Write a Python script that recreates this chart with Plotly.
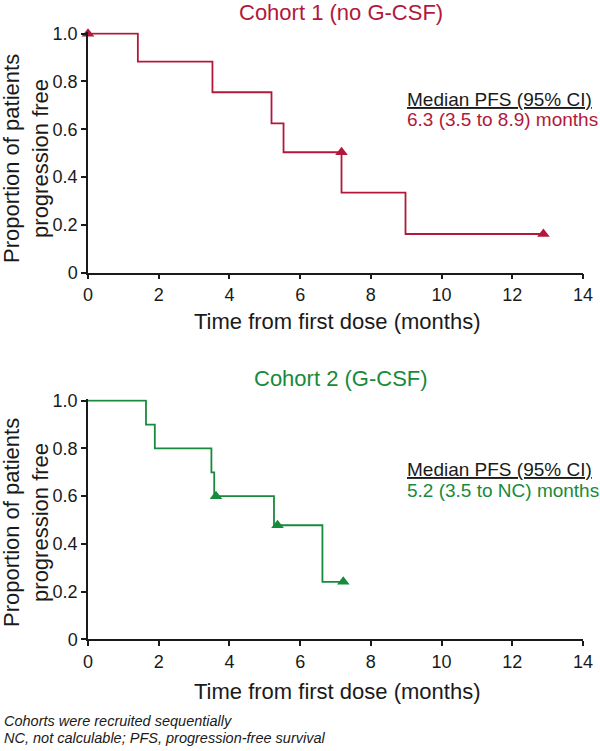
import plotly.graph_objects as go

# ---- data ----
c1_time = [0, 1.41, 3.52, 5.19, 5.53, 7.17, 8.98, 12.88]
c1_surv = [1.0, 0.883, 0.755, 0.625, 0.504, 0.335, 0.162, 0.162]
c1_cens_time = [0, 7.17, 12.88]
c1_cens_surv = [1.0, 0.504, 0.162]

c2_time = [0, 1.64, 1.89, 3.49, 3.57, 5.26, 6.63, 7.22]
c2_surv = [1.0, 0.90, 0.80, 0.70, 0.60, 0.478, 0.241, 0.241]
c2_cens_time = [3.62, 5.36, 7.22]
c2_cens_surv = [0.60, 0.478, 0.241]

x_ticks = [0, 2, 4, 6, 8, 10, 12, 14]
y_ticks = [0, 0.2, 0.4, 0.6, 0.8, 1.0]
y_ticktext = ["0", "0.2", "0.4", "0.6", "0.8", "1.0"]

titles = ["Cohort 1 (no G-CSF)", "Cohort 2 (G-CSF)"]
medians = ["6.3 (3.5 to 8.9) months", "5.2 (3.5 to NC) months"]

RED = "#B2183A"
GREEN = "#178A3B"
INK = "#1a1a1a"
FONT = "Liberation Sans, Arial, Helvetica, sans-serif"

W, H = 600, 751
L, R = 88, 17
YTOP = 1.006  # small headroom so the 1.0 step line is not clipped


def px(xp):
    return (xp - L) / (W - L - R)


def py(yp):
    return 1 - yp / H


fig = go.Figure()

fig.add_trace(go.Scatter(x=c1_time, y=c1_surv, mode="lines", line=dict(color=RED, width=1.8, shape="hv"),
                         xaxis="x", yaxis="y", showlegend=False, cliponaxis=False))
fig.add_trace(go.Scatter(x=c1_cens_time, y=c1_cens_surv, mode="markers",
                         marker=dict(symbol="triangle-up", size=11, color=RED),
                         xaxis="x", yaxis="y", showlegend=False, cliponaxis=False))
fig.add_trace(go.Scatter(x=c2_time, y=c2_surv, mode="lines", line=dict(color=GREEN, width=1.8, shape="hv"),
                         xaxis="x2", yaxis="y2", showlegend=False, cliponaxis=False))
fig.add_trace(go.Scatter(x=c2_cens_time, y=c2_cens_surv, mode="markers",
                         marker=dict(symbol="triangle-up", size=11, color=GREEN),
                         xaxis="x2", yaxis="y2", showlegend=False, cliponaxis=False))

# pixel extents of the 0..1 span of each panel
top_y0, top_y1 = 272.7, 33.7
bot_y0, bot_y1 = 639.3, 400.7
top_dom = [py(top_y0), py(top_y0 - (top_y0 - top_y1) * YTOP)]
bot_dom = [py(bot_y0), py(bot_y0 - (bot_y0 - bot_y1) * YTOP)]

xcommon = dict(range=[0, 14], tickvals=x_ticks, showline=True, linecolor=INK, linewidth=1.5,
               ticks="outside", ticklen=5, tickwidth=1.5, tickcolor=INK, showgrid=False, zeroline=False,
               automargin=False, tickfont=dict(size=18, color=INK, family=FONT), domain=[0, 1])
ycommon = dict(range=[0, YTOP], tickvals=y_ticks, ticktext=y_ticktext, showline=True, linecolor=INK,
               linewidth=1.5, ticks="outside", ticklen=5, tickwidth=1.5, tickcolor=INK, showgrid=False,
               zeroline=False, automargin=False, tickfont=dict(size=18, color=INK, family=FONT))

fig.update_layout(
    template="none",
    width=W, height=H, autosize=False,
    margin=dict(l=L, r=R, t=0, b=0, pad=0),
    paper_bgcolor="white", plot_bgcolor="white",
    font=dict(family=FONT, color=INK),
    xaxis=dict(**xcommon, anchor="y"),
    yaxis=dict(**ycommon, domain=top_dom, anchor="x"),
    xaxis2=dict(**xcommon, anchor="y2"),
    yaxis2=dict(**ycommon, domain=bot_dom, anchor="x2"),
)

ann = []
# panel titles
ann.append(dict(text=titles[0], x=px(341), y=py(13), xref="paper", yref="paper", showarrow=False,
                xanchor="center", yanchor="middle", font=dict(size=22, color=RED, family=FONT)))
ann.append(dict(text=titles[1], x=px(341), y=py(378), xref="paper", yref="paper", showarrow=False,
                xanchor="center", yanchor="middle", font=dict(size=22, color=GREEN, family=FONT)))
# axis titles
for yc in (321, 691):
    ann.append(dict(text="Time from first dose (months)", x=px(337), y=py(yc), xref="paper", yref="paper",
                    showarrow=False, xanchor="center", yanchor="middle", font=dict(size=22, color=INK, family=FONT)))
for yc in (159, 523):
    ann.append(dict(text="Proportion of patients<br>progression free", x=px(26), y=py(yc), xref="paper",
                    yref="paper", showarrow=False, xanchor="center", yanchor="middle", textangle=-90,
                    font=dict(size=22, color=INK, family=FONT)))
# median annotations
for (y1, y2, col, med) in ((99, 120, RED, medians[0]), (469, 490, GREEN, medians[1])):
    ann.append(dict(text="<u>Median PFS (95% CI)</u>", x=px(405), y=py(y1), xref="paper", yref="paper",
                    showarrow=False, xanchor="left", yanchor="middle", font=dict(size=19, color=INK, family=FONT)))
    ann.append(dict(text=med, x=px(405), y=py(y2), xref="paper", yref="paper",
                    showarrow=False, xanchor="left", yanchor="middle", font=dict(size=19, color=col, family=FONT)))
# footnotes
ann.append(dict(text="<i>Cohorts were recruited sequentially</i>", x=px(2), y=py(721), xref="paper", yref="paper",
                showarrow=False, xanchor="left", yanchor="middle", font=dict(size=14.5, color=INK, family=FONT)))
ann.append(dict(text="<i>NC, not calculable; PFS, progression-free survival</i>", x=px(2), y=py(738), xref="paper",
                yref="paper", showarrow=False, xanchor="left", yanchor="middle",
                font=dict(size=14.5, color=INK, family=FONT)))

fig.update_layout(annotations=ann)
fig.write_html("out.html", config={"displayModeBar": False},
               post_script="document.body.style.margin='0';document.body.style.overflow='hidden';")
